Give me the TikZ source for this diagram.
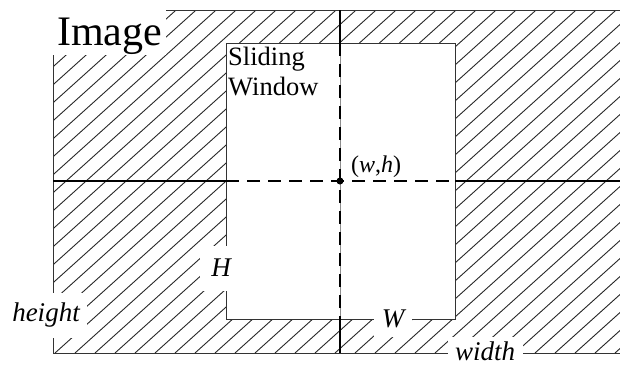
\documentclass[tikz,border=0pt]{standalone}
\usepackage{fontspec}
\setmainfont{Liberation Serif}
\begin{document}
\begin{tikzpicture}[x=1pt,y=-1pt,
  hatch/.style={line width=0.9pt,draw=black!85},
  border/.style={line width=1pt,draw=black!80},
  axis/.style={line width=1.6pt,draw=black},
  axisdash/.style={line width=1.6pt,draw=black,dash pattern=on 13pt off 8pt},
  under/.style={line width=0.6pt,draw=black!45},
  lbl/.style={fill=white,inner sep=0pt,font=\fontsize{27}{30}\selectfont\itshape}]
\useasboundingbox (0,0) rectangle (620,365);
% frame corners
\coordinate (otl) at (53,10);
\coordinate (otr) at (620,10);
\coordinate (obl) at (53,353);
\coordinate (obr) at (620,353);
\coordinate (wtl) at (226,43);
\coordinate (wbr) at (455,319);
% axes
\coordinate (t) at (340,10);
\coordinate (b) at (340,353);
\coordinate (l) at (53,181);
\coordinate (r) at (620,181);
\coordinate (wt) at (340,43);
\coordinate (wb) at (340,319);
\coordinate (wl) at (226,181);
\coordinate (wr) at (455,181);
\coordinate (c) at (340,181);
% hatching
\begin{scope}
  \clip (otl) rectangle (obr);
  \foreach \i in {-19,...,31} \draw[hatch] ({15+20*\i},353) -- ++(400,-360);
\end{scope}
% window
\fill[white] (wtl) rectangle (wbr);
\draw[border] (wtl) rectangle (wbr);
% image border
\draw[border] (otr) -- (otl) -- (obl) -- (obr);
% axes
\draw[axis] (l) -- (wl);
\draw[axis] (wr) -- (r);
\draw[axisdash] (wl) -- (wr);
\draw[axis] (t) -- (wt);
\draw[axis] (wb) -- (b);
\draw[under] (wt) -- (wb);
\draw[axisdash] (wt) -- (wb);
\fill (c) circle (3.5);
% labels
\fill[white] (53,10) rectangle (166,55);
\node (image) [anchor=base west,inner sep=0pt,font=\fontsize{42}{46}\selectfont] at (57,45) {Image};
\node (sw) [anchor=north west,inner sep=0pt,align=left,font=\fontsize{26.5}{30}\selectfont] at (228,47) {Sliding\\Window};
\node (wh) [anchor=base,inner sep=1pt,font=\fontsize{24}{28}\selectfont] at (376,172) {(\textit{w},\textit{h})};
\node (hgt) [lbl,minimum width=82pt,minimum height=45pt] at (46,315) {height};
\node (H) [lbl,minimum width=42pt,minimum height=45pt] at (221,268) {H};
\node (W) [lbl,minimum width=38pt,minimum height=36pt] at (393,319) {W};
\node (wid) [lbl,minimum width=75pt,minimum height=28pt] at (485,351) {width};
\end{tikzpicture}
\end{document}
